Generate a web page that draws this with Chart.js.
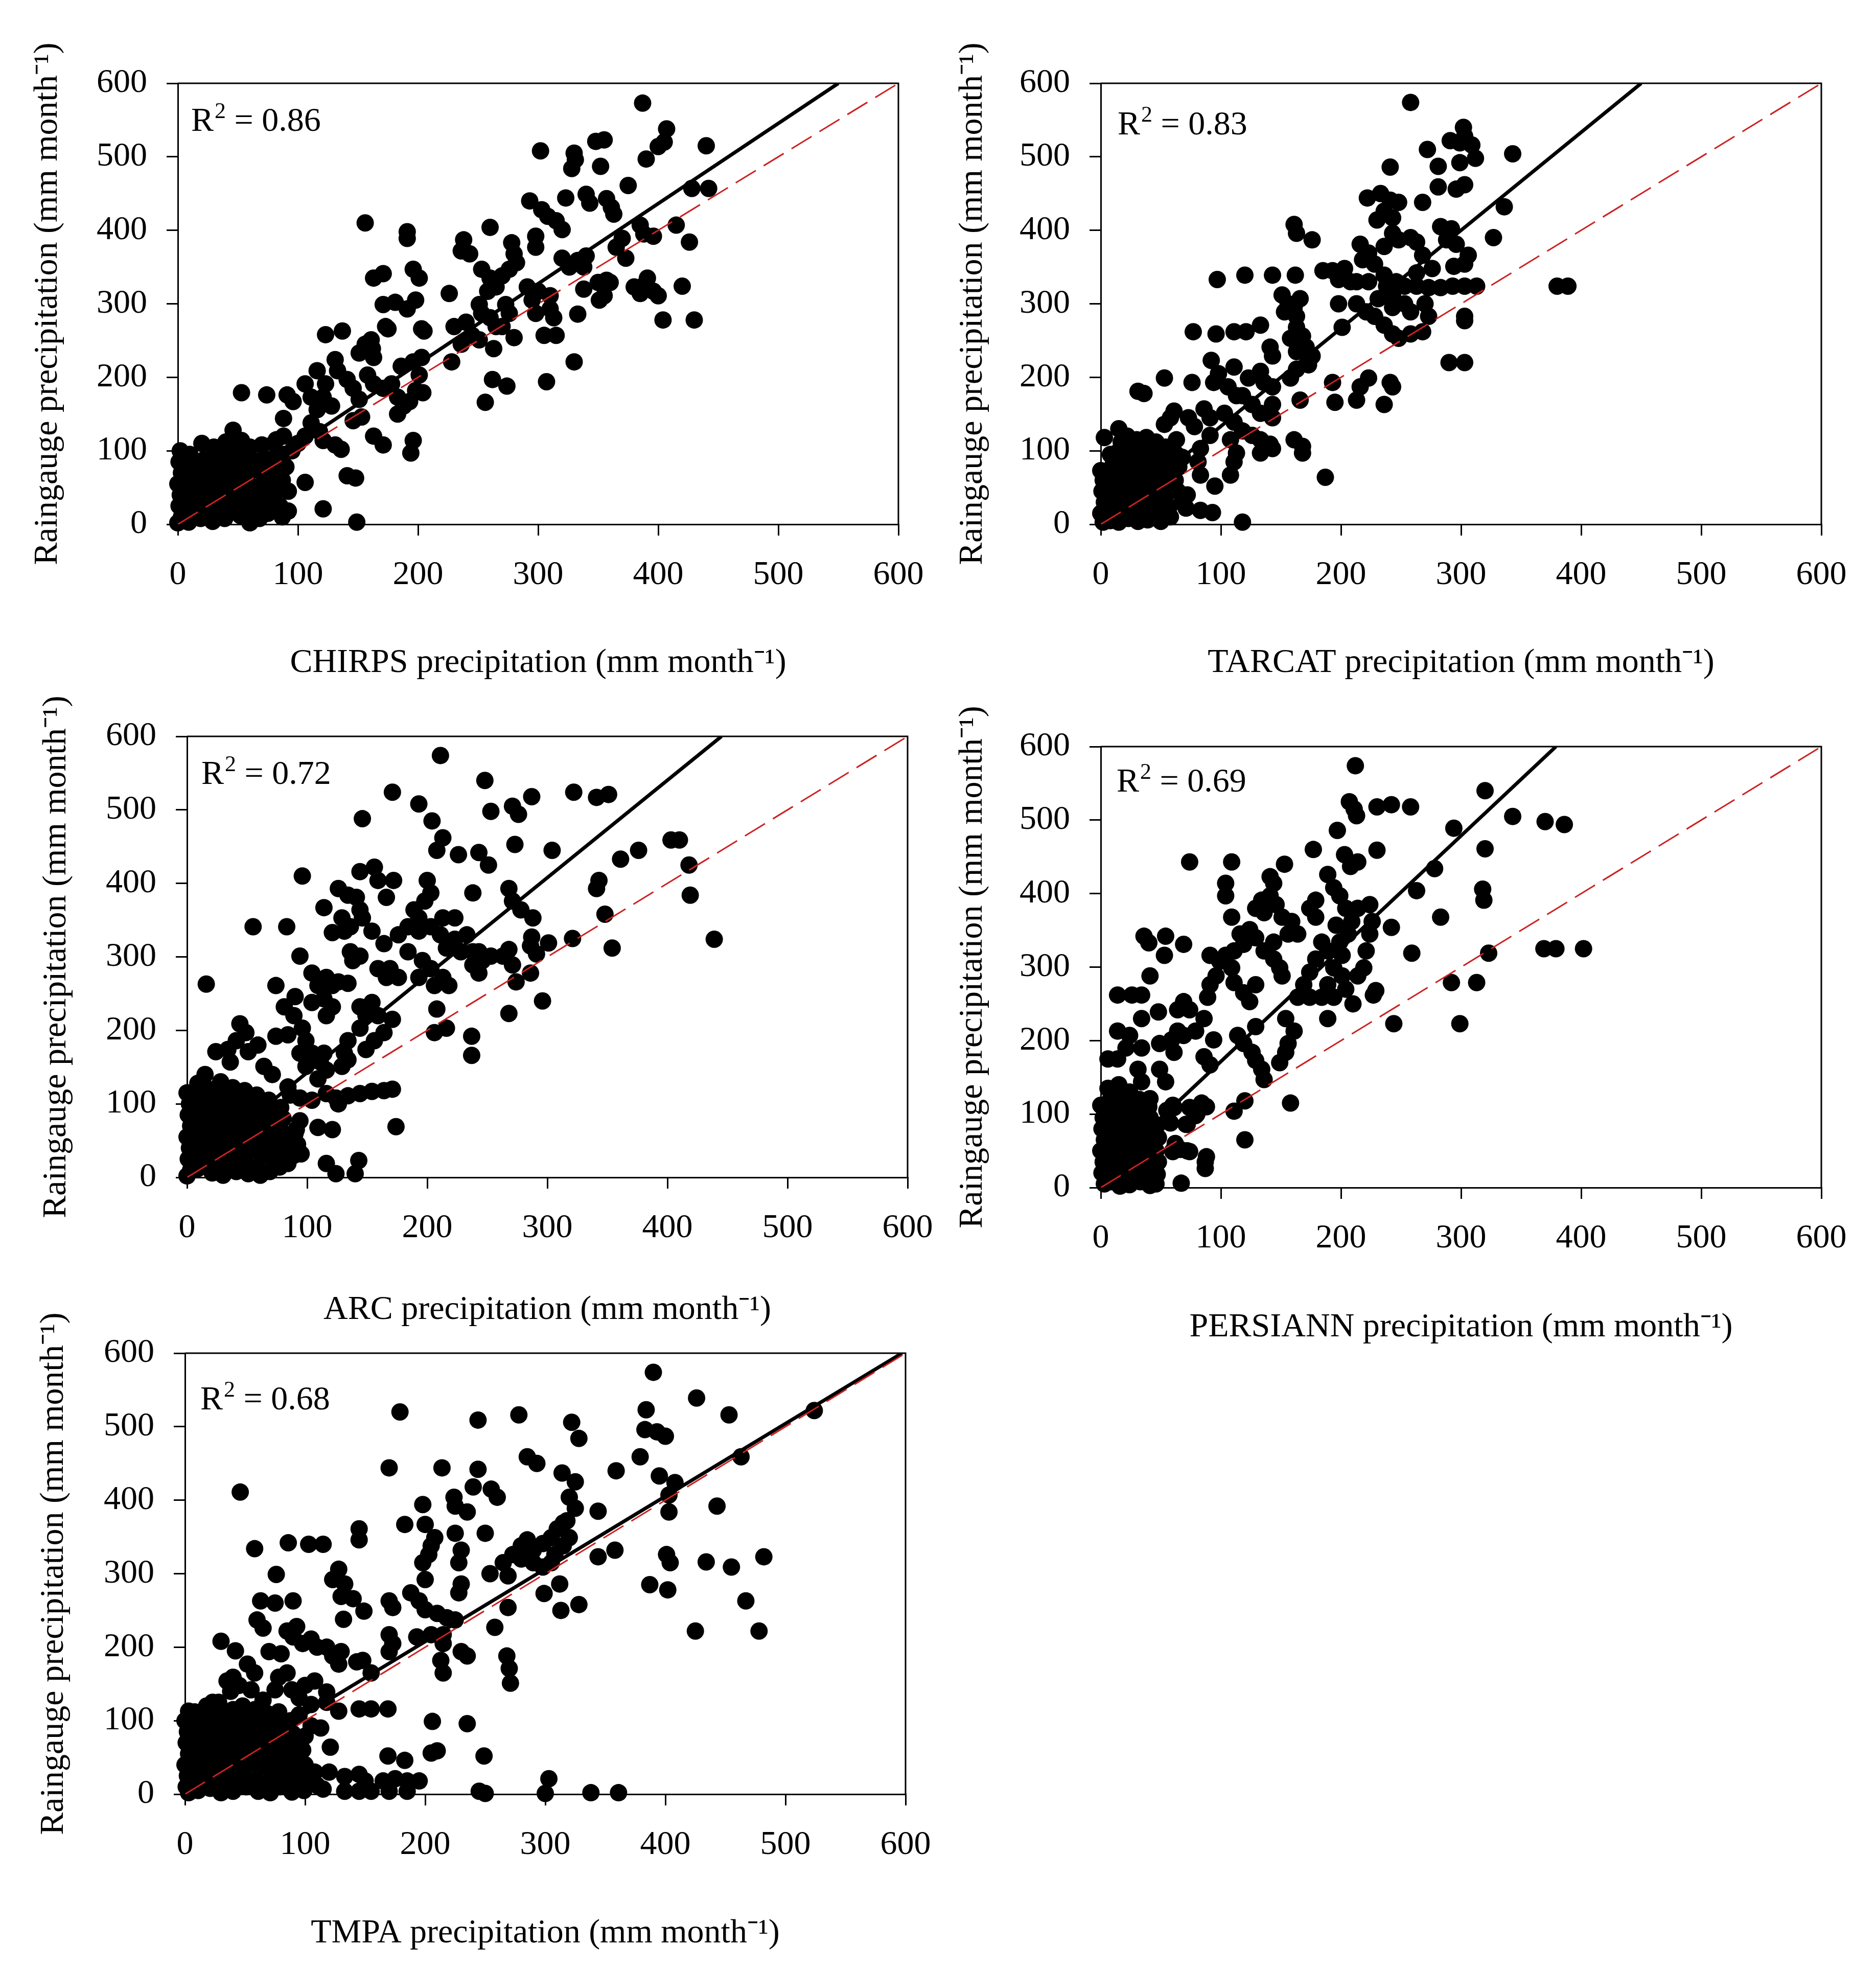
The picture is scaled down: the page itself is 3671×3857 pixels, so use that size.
<!DOCTYPE html>
<html>
<head>
<meta charset="utf-8">
<title>Raingauge vs satellite precipitation</title>
<script src="https://cdn.jsdelivr.net/npm/chart.js@4.4.1/dist/chart.umd.min.js"></script>
<style>
  html, body { margin: 0; padding: 0; background: #fff; }
  body { width: 3671px; height: 3857px; position: relative; overflow: hidden; }
  canvas { position: absolute; }
</style>
</head>
<body>
<script>
// monthly totals, [satellite, raingauge] in mm month-1
const chirps = [
  [387,573],[407,538],[405,520],[400,514],[440,515],[390,497],[302,508],[330,505],[331,496],[328,484],
  [348,521],[355,523],[352,487],[375,461],[428,457],[442,457],[293,440],[323,444],[340,449],[343,437],
  [357,443],[361,431],[363,422],[303,428],[308,419],[315,413],[320,401],[156,410],[260,404],[191,398],
  [191,389],[238,387],[236,372],[243,368],[278,383],[280,368],[282,356],[276,347],[298,392],[298,377],
  [385,407],[388,395],[396,392],[415,407],[426,384],[370,389],[365,377],[373,362],[320,362],[326,350],
  [333,359],[340,365],[338,350],[350,329],[360,329],[351,305],[338,320],[380,323],[385,314],[390,329],
  [396,317],[400,311],[391,335],[420,324],[404,278],[430,278],
  [163,335],[171,341],[196,347],[201,335],[171,299],[181,302],[191,293],[198,305],[226,314],[173,269],
  [175,266],[203,266],[205,263],[251,299],[253,287],[253,347],[260,335],[265,323],[270,338],[258,317],
  [260,281],[265,269],[263,239],[273,299],[276,287],[280,254],[270,269],[291,323],[295,305],[300,317],
  [298,287],[310,311],[310,293],[313,281],[305,257],[315,257],[333,286],[355,311],[357,332],[330,221],
  [307,194],[262,197],[274,188],[256,166],[228,221],[230,269],[240,275],[245,257],[236,245],[251,251],
  [123,258],[137,263],[156,245],[161,251],[151,233],[162,239],[163,227],[131,224],[133,209],[116,209],
  [123,191],[106,191],[111,173],[141,197],[146,185],[151,170],[158,203],[163,191],[171,185],[178,191],
  [183,173],[186,215],[196,221],[203,227],[201,203],[198,182],[204,179],[188,161],[193,167],[183,150],
  [196,114],[194,97],[163,120],[171,108],
  [53,179],[74,176],[91,176],[96,167],[88,144],[121,173],[128,161],[116,156],[111,138],[118,126],
  [106,120],[121,114],[131,108],[136,102],[141,66],[148,63],[106,57],[121,21],[149,3],[153,146],[146,141],
  [82,115],[95,100],[100,110],[88,120],
  [2,100],[1,85],[3,70],[0,55],[2,40],[1,25],[3,10],[0,2],
  [10,95],[12,78],[9,60],[11,45],[10,30],[12,15],[9,3],
  [20,110],[22,88],[19,72],[21,55],[20,38],[22,22],[19,8],
  [30,105],[32,90],[29,70],[31,52],[30,35],[32,18],[29,4],
  [40,112],[42,95],[39,78],[41,60],[40,42],[42,25],[39,8],
  [46,128],[50,100],[52,82],[49,65],[51,48],[50,30],[52,12],
  [53,114],[60,105],[62,88],[59,70],[61,52],[60,35],[62,18],[60,2],
  [70,108],[72,90],[69,72],[71,55],[70,38],[72,22],[68,8],
  [80,110],[82,92],[79,75],[81,58],[80,40],[78,22],
  [88,95],[90,78],[87,60],[92,45],[75,15],[85,25],[92,18],[87,10]
];

const tarcat = [
  [258,574],[302,540],[303,528],[309,516],[312,498],[299,519],[291,522],[343,504],[272,510],[281,487],
  [241,486],[299,492],[303,462],[296,456],[281,459],[222,444],[233,450],[241,441],[248,438],[236,426],
  [243,417],[230,414],[268,438],[336,432],[327,390],[283,405],[292,402],[288,387],[296,381],[258,390],
  [263,384],[248,387],[243,396],[161,408],[163,396],[176,387],[236,378],[223,369],[216,381],[218,360],
  [228,354],[306,366],[303,354],[294,351],[268,366],[276,348],[263,342],[193,345],[203,348],[208,330],
  [198,333],[143,339],[162,339],[185,345],[97,333],[120,339],[213,330],[223,330],[236,339],[238,324],
  [246,330],[253,324],[263,324],[273,322],[283,322],[293,324],[303,324],[313,324],[380,324],[389,324],
  [231,307],[243,312],[253,300],[213,300],[221,289],[228,283],[198,300],[151,312],[156,300],[153,289],
  [161,295],[166,307],[163,283],[133,271],[121,262],[111,262],[96,259],[77,262],[201,268],[163,268],
  [168,256],[158,253],[171,241],[163,235],[176,229],[173,217],[141,241],[143,229],[236,271],[243,259],
  [248,253],[258,259],[268,262],[273,283],[243,295],[258,289],[270,300],[303,283],[303,277],[290,220],
  [303,220],[223,199],[216,187],[213,169],[193,193],[195,166],[236,163],[241,193],[243,187],[158,199],
  [163,211],[166,169],[133,208],[136,193],[123,199],[143,187],[111,214],[98,205],[92,223],[94,193],
  [106,187],[113,175],[76,193],[53,199],[36,178],[31,181],[61,154],[58,145],[53,136],[73,145],
  [78,133],[86,157],[91,145],[118,175],[126,163],[133,151],[143,163],[143,145],[103,151],[111,139],
  [118,127],[108,115],[113,97],[111,85],[108,67],[91,121],[83,103],[81,85],[83,67],[126,121],
  [133,115],[141,109],[133,97],[143,103],[161,115],[168,106],[168,97],[187,64],[95,52],[118,3],
  [71,22],[83,19],[93,16],[63,115],[68,91],
  [0,73],[2,60],[1,45],[3,30],[0,15],[2,3],[3,118],
  [8,95],[10,80],[7,65],[9,50],[8,35],[10,20],[8,5],
  [15,130],[17,112],[14,98],[16,82],[15,66],[17,50],[14,35],[16,18],[15,3],
  [22,120],[24,104],[21,88],[23,72],[22,56],[24,40],[21,24],[23,8],
  [30,115],[32,100],[29,84],[31,68],[30,52],[32,36],[29,20],[31,4],
  [38,118],[40,102],[37,86],[39,70],[38,54],[40,38],[37,22],[39,6],
  [46,112],[48,96],[45,80],[47,64],[46,48],[48,32],[45,16],[50,4],
  [54,105],[56,88],[53,72],[55,56],[54,40],[57,24],[58,10],
  [63,95],[65,78],[62,60],[64,45],[68,30],[72,40]
];

const arc = [
  [211,574],[248,540],[171,524],[193,508],[204,485],[213,462],[208,445],[146,488],[253,498],[271,505],
  [276,494],[287,518],[322,524],[341,517],[351,521],[273,453],[304,445],[226,439],[243,442],[251,425],
  [361,433],[376,445],[403,459],[410,459],[418,425],[419,384],[343,404],[341,393],[348,358],[354,312],
  [321,325],[439,324],[301,319],[287,327],[286,315],[268,393],[271,376],[278,364],[288,353],[238,387],
  [96,410],[144,416],[156,422],[159,404],[172,404],[166,381],[126,393],[134,384],[141,381],[144,364],
  [146,353],[136,341],[114,367],[129,353],[131,335],[121,333],[136,307],[138,295],[189,364],[193,353],
  [198,376],[200,404],[203,387],[184,341],[193,335],[203,341],[213,353],[223,353],[164,318],[176,330],
  [184,307],[211,330],[216,312],[223,324],[233,330],[238,307],[243,307],[253,301],[263,301],[268,310],
  [228,307],[246,295],[238,289],[243,278],[203,284],[213,272],[206,261],[218,261],[196,295],[193,272],
  [271,289],[274,266],[291,304],[286,278],[296,240],[268,223],[237,192],[237,166],[206,197],[216,203],
  [208,229],[154,335],[159,284],[169,284],[176,272],[166,272],[144,301],[94,301],[104,278],[109,261],
  [116,272],[121,261],[126,266],[134,264],[114,243],[121,232],[116,220],[104,238],[144,232],[149,220],
  [154,238],[159,220],[171,215],[164,197],[156,186],[149,174],[144,203],[134,186],[131,169],[89,220],
  [81,232],[90,246],[74,261],[16,263],[55,341],[83,341],[84,194],[74,192],[44,209],[49,197],
  [41,186],[34,174],[59,180],[51,171],[24,171],[36,157],[96,203],[99,186],[104,169],[114,169],
  [111,157],[94,169],[99,151],[116,146],[109,134],[129,151],[134,160],[71,140],[64,151],[84,123],
  [94,108],[104,105],[116,114],[124,108],[134,111],[144,114],[154,117],[164,118],[171,120],[126,100],
  [174,69],[94,77],[91,65],[109,68],[121,65],[116,19],[124,5],[143,23],[140,5],[89,30],
  [91,42],[84,19],[79,59],[74,48],
  [0,115],[2,100],[1,85],[3,70],[0,55],[2,40],[1,25],[3,10],[0,2],
  [9,128],[10,108],[12,92],[9,76],[11,60],[10,44],[12,28],[9,12],
  [15,140],[18,120],[20,102],[19,86],[21,70],[20,54],[22,38],[19,22],[21,6],
  [28,130],[30,112],[29,96],[31,80],[30,64],[32,48],[29,32],[31,16],[30,3],
  [38,122],[40,104],[39,88],[41,72],[40,56],[42,40],[39,24],[41,8],
  [48,118],[50,100],[49,84],[51,68],[50,52],[52,36],[49,20],[51,5],
  [58,112],[60,95],[59,78],[61,62],[60,46],[62,30],[59,14],[61,3],
  [68,105],[70,88],[69,72],[71,56],[70,40],[72,24],[69,8],
  [78,95],[80,80],[79,62],[81,46],[80,30],[77,14],
  [86,112],[90,60],[92,45],[95,32]
];

const persiann = [
  [212,574],[207,525],[211,515],[213,506],[230,518],[242,521],[258,518],[320,540],[343,505],[370,498],
  [386,494],[294,489],[197,486],[177,460],[230,459],[320,461],[203,453],[208,437],[214,443],[189,426],
  [278,434],[263,404],[318,406],[319,391],[283,368],[242,354],[259,319],[323,319],[369,325],[379,325],
  [402,325],[292,279],[313,279],[299,223],[244,223],[189,230],[229,268],[227,262],[210,250],[224,345],
  [221,322],[219,299],[214,288],[214,380],[224,385],[226,362],[194,408],[199,397],[204,380],[209,362],
  [206,345],[196,357],[199,334],[189,322],[201,316],[194,299],[201,288],[189,276],[204,270],[194,259],
  [179,311],[174,293],[169,276],[164,259],[174,259],[184,259],[179,391],[174,380],[179,368],[184,334],
  [153,440],[141,423],[144,414],[134,391],[129,380],[136,374],[141,397],[146,385],[151,368],[159,362],
  [156,345],[164,345],[144,334],[136,322],[144,311],[151,288],[149,299],[104,414],[104,397],[109,368],
  [109,443],[116,345],[119,331],[111,322],[104,316],[99,308],[109,299],[124,351],[129,340],[111,279],
  [119,265],[124,253],[129,276],[96,288],[91,276],[89,259],[91,316],[74,443],[69,331],[36,342],
  [40,333],[53,316],[54,342],[41,288],[34,262],[14,262],[26,262],[48,239],[34,230],[14,213],
  [24,207],[21,190],[34,190],[6,175],[14,175],[49,196],[59,201],[69,207],[74,242],[69,253],
  [64,242],[79,213],[86,230],[94,201],[86,178],[91,167],[64,213],[61,184],[114,207],[119,196],
  [126,184],[129,173],[134,161],[136,147],[154,230],[161,213],[156,196],[154,184],[149,170],[129,219],
  [158,115],[120,118],[111,104],[120,65],[84,115],[74,109],[79,98],[71,86],[61,109],[74,49],
  [60,49],[87,35],[87,26],[67,6],[14,138],[34,144],[31,161],[49,161],[54,144],[41,121],
  [72,86],[80,100],[88,110],[60,50],[72,50],[88,42],
  [0,112],[2,95],[1,80],[3,65],[0,50],[2,35],[1,20],[3,5],
  [6,135],[8,120],[9,104],[7,88],[9,72],[8,56],[10,40],[7,24],[9,8],
  [15,140],[16,125],[17,110],[15,94],[17,78],[16,62],[18,46],[15,30],[17,14],[16,2],
  [24,130],[25,115],[23,100],[25,84],[24,68],[26,52],[23,36],[25,20],[24,4],
  [32,120],[33,104],[31,88],[33,72],[32,56],[34,40],[31,24],[33,8],
  [40,110],[41,95],[39,80],[41,64],[40,48],[42,32],[39,16],[41,3],
  [47,85],[48,68],[46,50],[48,35],[47,18],[46,5],
  [55,105],[60,112],[58,88],[62,60],[66,52]
];

const tmpa = [
  [390,574],[426,539],[179,520],[244,509],[278,516],[322,506],[328,484],[384,523],[453,516],[383,496],
  [393,493],[400,487],[524,522],[463,459],[379,459],[285,459],[293,450],[170,444],[214,444],[244,442],
  [314,437],[325,425],[320,404],[325,389],[395,433],[408,424],[359,440],[403,407],[403,384],[46,411],
  [240,418],[255,415],[260,404],[224,404],[225,392],[235,384],[198,394],[344,385],[443,392],[183,367],
  [200,367],[208,349],[205,338],[203,326],[225,355],[230,332],[228,315],[250,355],[145,361],[145,346],
  [86,342],[103,340],[115,340],[58,334],[76,299],[128,306],[123,292],[133,286],[130,269],[140,266],
  [149,249],[132,238],[170,263],[173,254],[188,274],[195,263],[200,251],[210,246],[218,240],[225,237],
  [200,292],[198,315],[230,286],[228,274],[254,300],[269,297],[265,315],[273,326],[280,338],[285,346],
  [290,332],[298,341],[305,349],[310,361],[315,369],[280,320],[290,315],[298,309],[305,315],[308,326],
  [315,338],[320,349],[318,372],[344,323],[358,332],[401,326],[404,315],[434,316],[455,309],[482,323],
  [387,285],[402,278],[312,286],[299,273],[313,250],[328,258],[269,254],[258,227],[467,263],[425,222],
  [478,222],[235,188],[230,194],[215,205],[213,182],[215,165],[205,217],[215,217],[193,214],[170,217],
  [173,205],[170,194],[268,188],[270,171],[271,151],[30,208],[42,195],[52,177],[58,165],[63,263],
  [75,260],[90,263],[60,237],[65,226],[70,194],[80,191],[90,214],[98,205],[85,222],[93,228],
  [105,211],[110,200],[118,200],[123,188],[128,177],[130,194],[143,180],[148,182],[155,165],[85,165],
  [78,159],[89,142],[100,148],[108,154],[118,139],[118,125],[128,113],[145,116],[155,116],[169,116],
  [95,131],[105,122],[95,108],[105,93],[113,90],[100,79],[121,64],[75,142],[65,128],[55,142],
  [45,148],[40,159],[35,154],[23,125],[10,110],[3,113],[206,99],[235,96],[205,56],[210,59],
  [249,52],[169,52],[183,46],[120,30],[133,24],[145,27],[150,18],[165,18],[175,21],[185,18],
  [195,18],[115,7],[133,4],[145,4],[155,4],[170,4],[185,4],[245,4],[250,1],[303,21],
  [300,1],[338,2],[361,2],[105,21],[95,27],[85,39],
  [0,100],[2,85],[1,70],[3,55],[0,40],[2,25],[1,10],[3,2],
  [8,112],[10,95],[9,80],[11,65],[10,50],[12,35],[9,20],[11,5],
  [18,120],[20,104],[19,88],[21,72],[20,56],[22,40],[19,24],[21,8],
  [28,125],[30,110],[29,94],[31,78],[30,62],[32,46],[29,30],[31,14],[30,2],
  [38,140],[40,115],[39,100],[41,84],[40,68],[42,52],[39,36],[41,20],[40,4],
  [48,120],[50,105],[49,90],[51,74],[50,58],[52,42],[49,26],[51,10],
  [58,115],[60,100],[59,84],[61,68],[60,52],[62,36],[59,20],[61,4],
  [68,110],[70,95],[69,78],[71,62],[70,46],[72,30],[69,14],[71,2],
  [78,112],[80,92],[79,75],[81,58],[80,42],[82,26],[79,10],
  [88,100],[90,82],[89,65],[91,48],[90,32],[92,16],[89,3],
  [98,60],[100,40],[102,22],[99,5],[108,30],[110,12]
];

const products = ['CHIRPS', 'TARCAT', 'ARC', 'PERSIANN', 'TMPA'];
const series = [chirps, tarcat, arc, persiann, tmpa];
const r2Values = ['0.86', '0.83', '0.72', '0.69', '0.68'];
// fitted line: value at x = 0, and x where it reaches 600
const fitIntercept = [0, 0, 10, 18, 10];
const fitTopX = [550, 450, 445, 379, 597];
const axisTicks = [0, 100, 200, 300, 400, 500, 600];

// page layout (px)
const PLOT_W = 1410, PLOT_H = 863;
const Y_BOX = 300, X_BOX = 320, PAD_TOP = 110, PAD_RIGHT = 110;
const FONT = "'Liberation Serif', 'Times New Roman', serif";
const FS = 66;
const panels = [
  { left: 348,  top: 163,  xTitle: 272, yTitle: 254, r2: [26, 76] },
  { left: 2154, top: 163,  xTitle: 272, yTitle: 250, r2: [33, 83] },
  { left: 366,  top: 1441, xTitle: 260, yTitle: 255, r2: [28, 76] },
  { left: 2154, top: 1461, xTitle: 274, yTitle: 250, r2: [31, 71] },
  { left: 362,  top: 2648, xTitle: 273, yTitle: 256, r2: [30, 93] }
];

Chart.defaults.font.family = FONT;
Chart.defaults.font.size = FS;
Chart.defaults.color = '#000';

// top and right sides of the box
const frame = {
  id: 'frame',
  beforeDatasetsDraw(chart) {
    const { ctx, chartArea: a } = chart;
    ctx.save();
    ctx.strokeStyle = '#000';
    ctx.lineWidth = 3;
    ctx.beginPath();
    ctx.moveTo(a.left, a.top);
    ctx.lineTo(a.right, a.top);
    ctx.lineTo(a.right, a.bottom);
    ctx.stroke();
    ctx.restore();
  }
};

// R² note in the top left corner
const r2Label = {
  id: 'r2Label',
  afterDraw(chart, args, opts) {
    const { ctx, chartArea: a } = chart;
    let x = a.left + opts.dx;
    const y = a.top + opts.dy;
    ctx.save();
    ctx.fillStyle = '#000';
    ctx.textBaseline = 'middle';
    ctx.font = FS + 'px ' + FONT;
    ctx.fillText('R', x, y);
    x += ctx.measureText('R').width + 2;
    ctx.font = Math.round(FS * 0.66) + 'px ' + FONT;
    ctx.fillText('2', x, y - FS * 0.3);
    x += ctx.measureText('2').width;
    ctx.font = FS + 'px ' + FONT;
    ctx.fillText(' = ' + opts.value, x, y);
    ctx.restore();
  }
};

function toPoints(list) {
  return list.map(p => ({ x: p[0], y: p[1] }));
}

function axis(titleText, titlePad, horizontal) {
  return {
    type: 'linear',
    min: 0,
    max: 600,
    afterBuildTicks: s => { s.ticks = axisTicks.map(v => ({ value: v })); },
    afterFit: s => { if (horizontal) s.height = X_BOX; else s.width = Y_BOX; },
    border: { color: '#000', width: 3 },
    grid: { drawOnChartArea: false, drawTicks: true, tickLength: 22, color: '#000', lineWidth: 3 },
    ticks: { padding: 38, maxRotation: 0, autoSkip: false, color: '#000', font: { size: FS } },
    title: { display: true, text: titleText, color: '#000', font: { size: FS }, padding: titlePad }
  };
}

panels.forEach((pn, i) => {
  const w = Y_BOX + PLOT_W + PAD_RIGHT;
  const h = PAD_TOP + PLOT_H + X_BOX;
  const cv = document.createElement('canvas');
  cv.width = w;
  cv.height = h;
  cv.style.width = w + 'px';
  cv.style.height = h + 'px';
  cv.style.left = (pn.left - Y_BOX) + 'px';
  cv.style.top = (pn.top - PAD_TOP) + 'px';
  document.body.appendChild(cv);

  const half = FS * 1.2 / 2;

  new Chart(cv, {
    type: 'scatter',
    data: {
      datasets: [
        {
          label: products[i],
          data: toPoints(series[i]),
          pointRadius: 17,
          pointBackgroundColor: '#000',
          pointBorderWidth: 0,
          clip: false,
          order: 2
        },
        {
          label: 'fit',
          data: [{ x: 0, y: fitIntercept[i] }, { x: fitTopX[i], y: 600 }],
          showLine: true,
          pointRadius: 0,
          borderColor: '#000',
          borderWidth: 7,
          order: 1
        },
        {
          label: '1:1',
          data: [{ x: 0, y: 0 }, { x: 600, y: 600 }],
          showLine: true,
          pointRadius: 0,
          borderColor: '#cc2222',
          borderWidth: 3,
          borderDash: [46, 18],
          order: 0
        }
      ]
    },
    options: {
      responsive: false,
      animation: false,
      devicePixelRatio: 1,
      events: [],
      layout: {
        autoPadding: false,
        padding: { left: 0, top: PAD_TOP, right: PAD_RIGHT, bottom: 0 }
      },
      plugins: {
        legend: { display: false },
        tooltip: { enabled: false },
        r2Label: { value: r2Values[i], dx: pn.r2[0], dy: pn.r2[1] }
      },
      scales: {
        x: axis(products[i] + ' precipitation (mm month\u207B\u00B9)',
                { top: 0, bottom: X_BOX - half - pn.xTitle }, true),
        y: axis('Raingauge precipitation (mm month\u207B\u00B9)',
                { top: Y_BOX - half - pn.yTitle, bottom: 0 }, false)
      }
    },
    plugins: [frame, r2Label]
  });
});
</script>
</body>
</html>
